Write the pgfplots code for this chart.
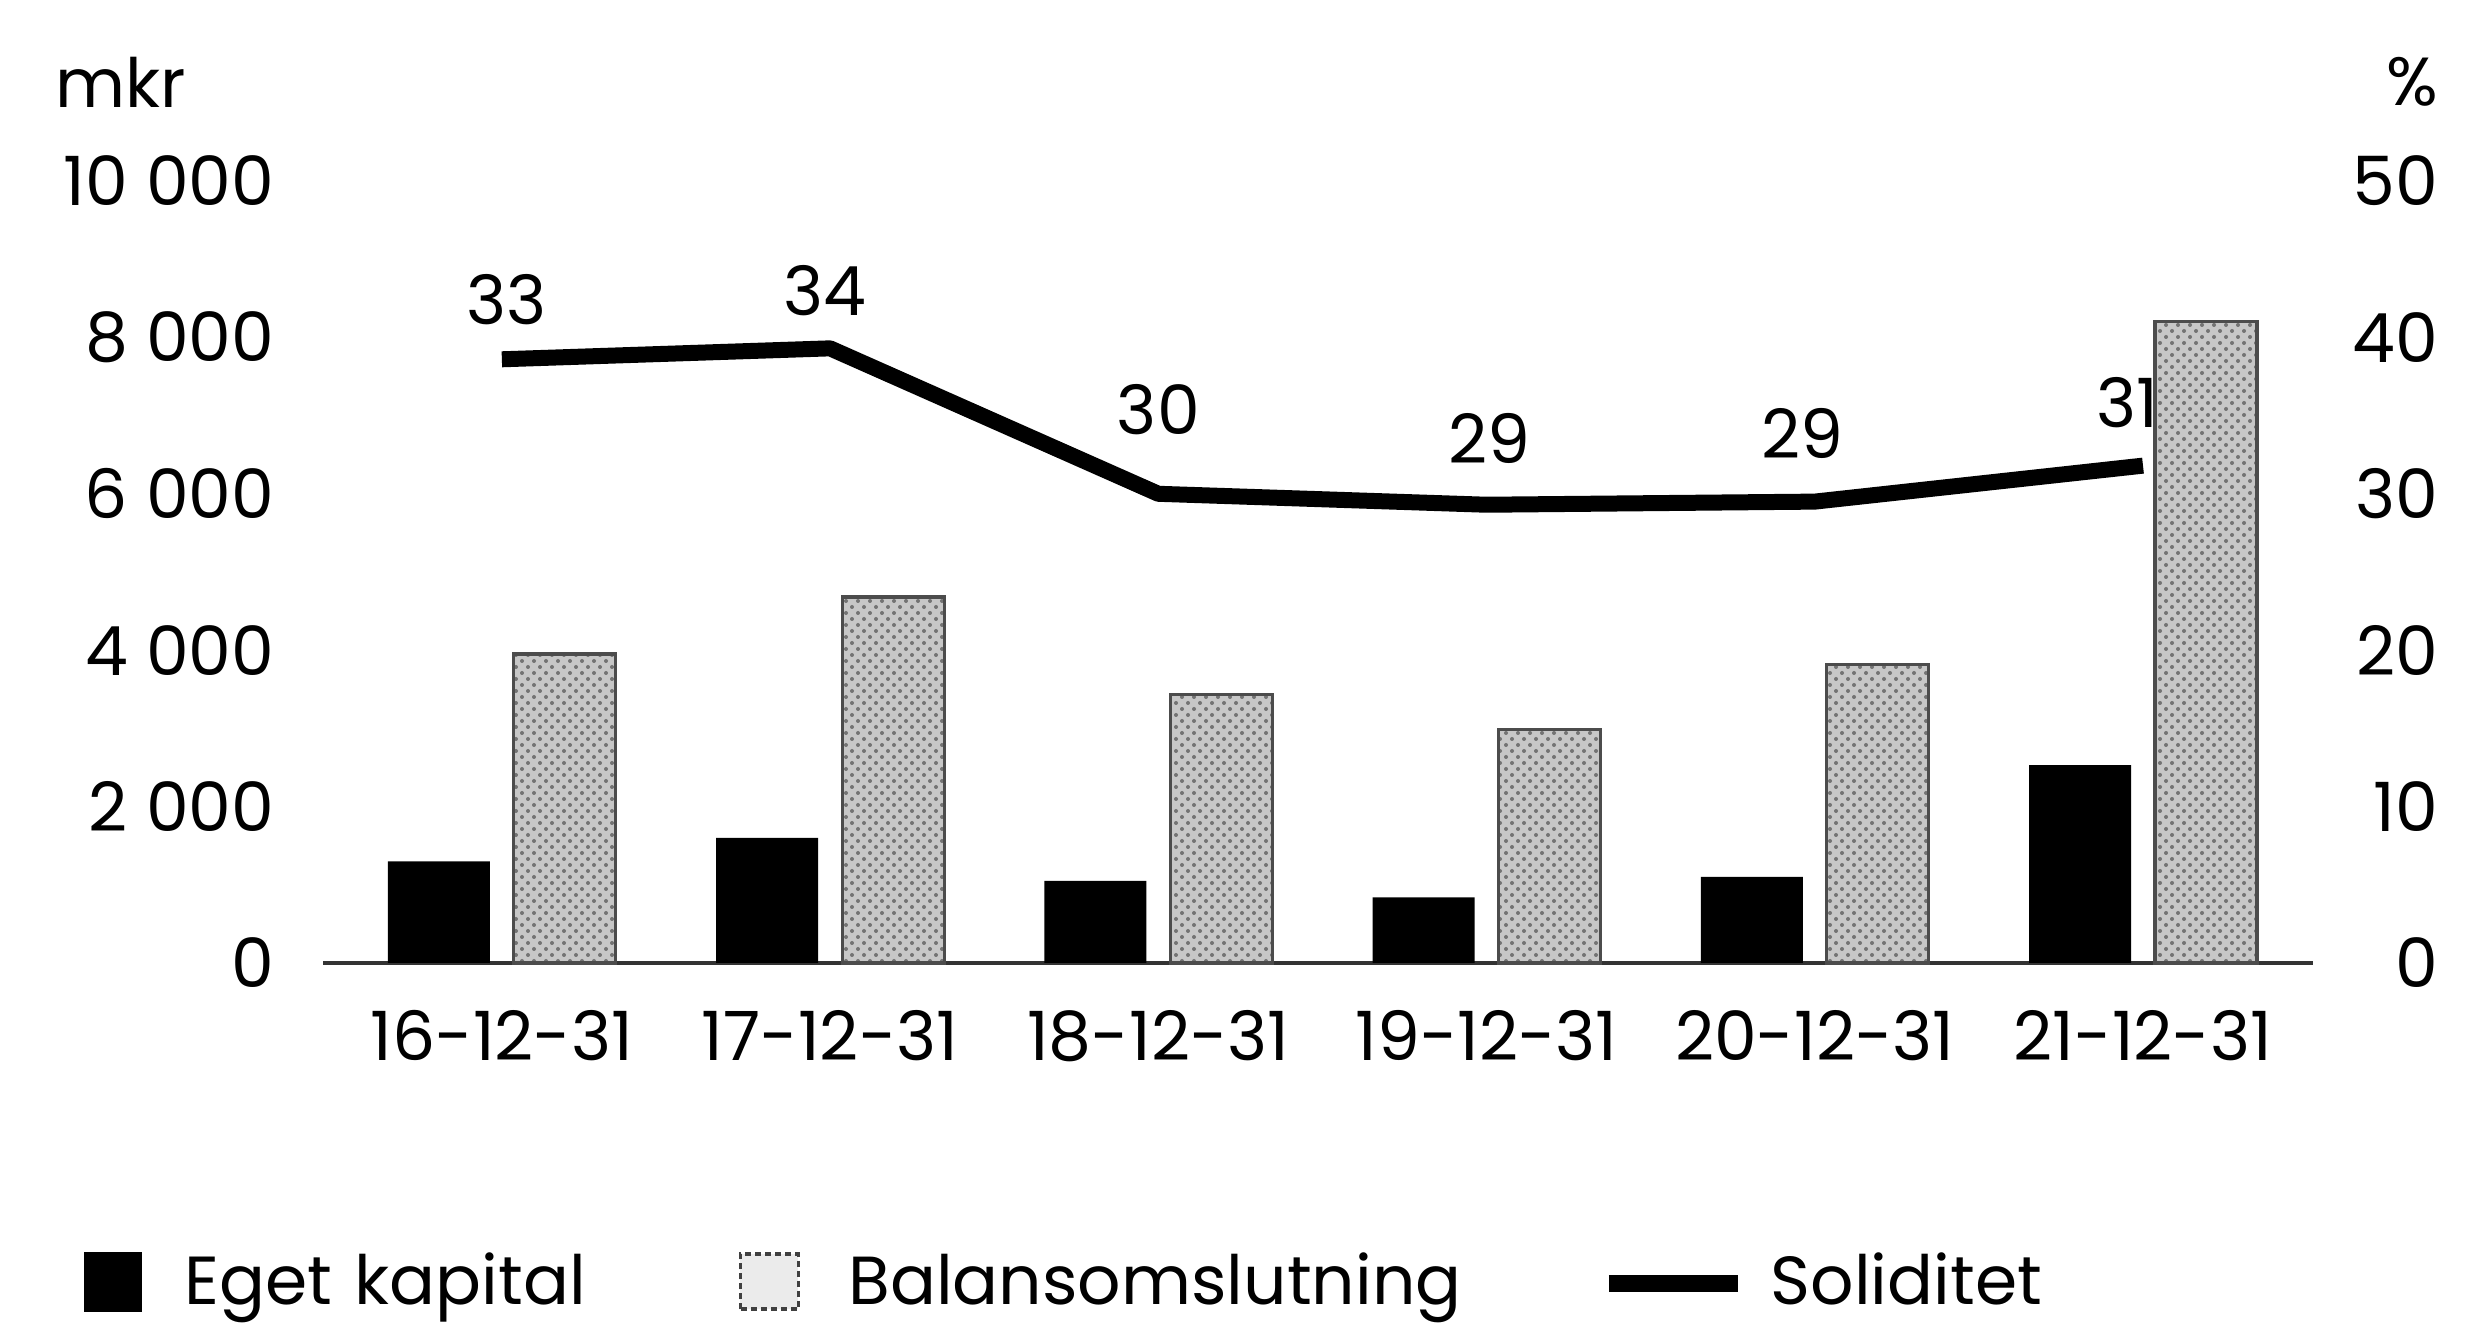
\documentclass[border=0pt]{standalone}
\usepackage{pgfplots}
\pgfplotsset{compat=1.18}
\usepackage{pgfplotstable}
\usetikzlibrary{patterns}
\usepackage{fontspec}
\setmainfont{Poppins}

\pgfplotstableread{
x eget balans
0 1300 3950
1 1600 4680
2 1050 3430
3 840 2990
4 1100 3820
5 2530 8200
}\bars

\pgfplotstableread{
x y lab dx dy
0 38.6 33 1.2 15
1 39.3 34 -1.2 14.5
2 30.0 30 0 21
3 29.3 29 0.8 16.5
4 29.5 29 -3 17
5 31.8 31 -4 15.7
}\soliditet

\begin{document}
\fontsize{17}{20}\selectfont
\begin{tikzpicture}
\useasboundingbox (0,0) rectangle (616.75pt,331.75pt);
\pgfplotsset{
  common/.style={
    scale only axis, width=497.5pt, height=195.5pt,
    at={(80.75pt,91pt)}, anchor=south west,
    xmin=-0.545, xmax=5.518, clip=false,
    major tick length=0pt,
    scaled y ticks=false,
    tick label style={font=\fontsize{17}{20}\selectfont},
  }
}
\begin{axis}[common,
  ymin=0, ymax=10000,
  ytick={0,2000,4000,6000,8000,10000},
  yticklabels={0,2 000,4 000,6 000,8 000,10 000},
  xtick={0,1,2,3,4,5},
  xticklabels={16-12-31,17-12-31,18-12-31,19-12-31,20-12-31,21-12-31},
  axis x line=bottom, axis y line=left,
  y axis line style={draw=none},
  x axis line style={-, line width=1pt, black!80},
  yticklabel style={xshift=-6.3pt},
  xticklabel style={yshift=-6pt},
  ybar=6pt, bar width=25.5pt,
]
\addplot[fill=black, draw=none] table[x=x,y=eget]{\bars};
\addplot[fill=black!22, draw=black!70, line width=0.8pt,
  postaction={pattern=crosshatch dots, pattern color=black!55}] table[x=x,y=balans]{\bars};
\node[anchor=west, inner sep=0pt] at (axis description cs:-0.1347,1.1266) {mkr};
\node[anchor=east, inner sep=0pt] at (axis description cs:1.0633,1.1266) {\%};
\end{axis}
\begin{axis}[common,
  ymin=0, ymax=50,
  ytick={0,10,20,30,40,50},
  yticklabels={0,10,20,30,40,50},
  xtick=\empty,
  axis y line=right, axis x line=none,
  y axis line style={draw=none},
  yticklabel style={anchor=east, xshift=37.2pt},
  legend columns=3,
  legend cell align=left,
  legend style={draw=none, fill=none, inner sep=0pt, column sep=0pt, row sep=0pt,
    nodes={inner sep=0pt, font=\fontsize{17}{20}\selectfont},
    at={(axis description cs:-0.1207,-0.4502)}, anchor=south west},
]
\addlegendimage{legend image code/.code={
  \path[draw=none, fill=none] (0pt,0pt) rectangle (25pt,1pt);
  \fill[black] (0pt,-6.95pt) rectangle (14.1pt,7.55pt);}}
\addlegendentry[text width=138.5pt]{Eget kapital}
\addlegendimage{legend image code/.code={
  \path[draw=none, fill=none] (0pt,0pt) rectangle (27.5pt,1pt);
  \filldraw[fill=black!8, draw=black!75, line width=0.9pt, dash pattern=on 1.5pt off 1pt] (0.5pt,-6.5pt) rectangle (15pt,7.3pt);}}
\addlegendentry[text width=188pt]{Balansomslutning}
\addplot[black, line width=4pt, line join=round,
  nodes near coords, point meta=explicit symbolic,
  visualization depends on={\thisrow{dx} \as \dx},
  visualization depends on={\thisrow{dy} \as \dy},
  every node near coord/.append style={anchor=center, xshift=\dx pt, yshift=\dy pt,
    font=\fontsize{17}{20}\selectfont},
  legend image code/.code={
    \path[draw=none, fill=none] (0pt,0pt) rectangle (40.5pt,1pt);
    \draw[line width=4.2pt] (0pt,0pt) -- (32.2pt,0pt);}
] table[x=x,y=y,meta=lab]{\soliditet};
\addlegendentry{Soliditet}
\end{axis}
\end{tikzpicture}
\end{document}
